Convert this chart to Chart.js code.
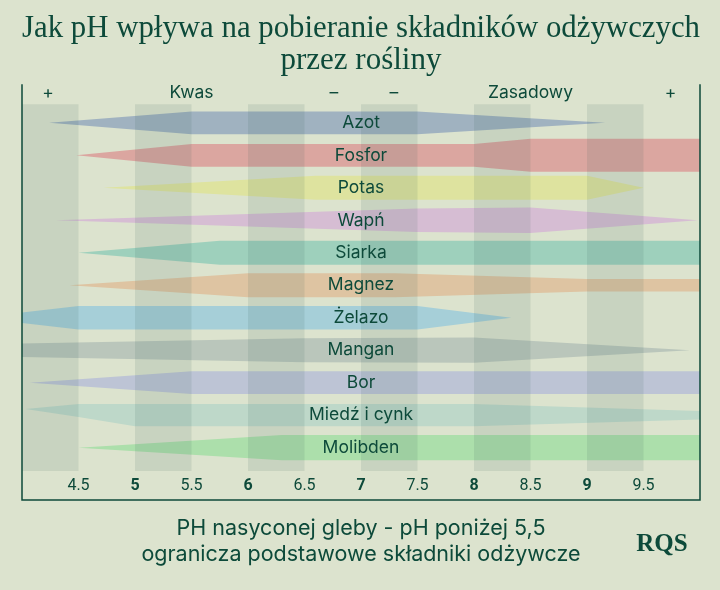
<!DOCTYPE html>
<html lang="pl">
<head>
  <meta charset="UTF-8">
  <title>pH a pobieranie składników</title>
  <style>
    body { margin: 0; background: #dce3ce; }
    #wrap { width: 720px; height: 590px; }
  </style>
  <script src="https://cdn.jsdelivr.net/npm/chart.js@4.4.0/dist/chart.umd.min.js"></script>
</head>
<body>
  <div id="wrap"><canvas id="chart" width="720" height="590"></canvas></div>

  <script>
    // nutrient rows, top to bottom
    const nutrients = ['Azot', 'Fosfor', 'Potas', 'Wapń', 'Siarka', 'Magnez', 'Żelazo', 'Mangan', 'Bor', 'Miedź i cynk', 'Molibden'];

    // shape of each band: [pH, half-width above, half-width below] (in row units)
    const azot = [[4.24, 0, 0], [5.5, .35, .35], [7.5, .35, .35], [9.16, 0, 0]];
    const fosfor = [[4.48, 0, 0], [5.5, .35, .35], [8.0, .35, .35], [8.5, .51, .51], [10, .51, .51]];
    const potas = [[4.72, 0, 0], [6.6, .37, .37], [9.0, .37, .37], [9.5, 0, 0]];
    const wapn = [[4.3, 0, 0], [7.5, .36, .36], [8.5, .39, .39], [9.98, 0, 0]];
    const siarka = [[4.5, 0, 0], [5.75, .37, .37], [10, .37, .37]];
    const magnez = [[4.42, 0, 0], [6.0, .37, .37], [7.3, .37, .37], [9.0, .19, .19], [10, .19, .19]];
    const zelazo = [[4.0, .16, .16], [4.5, .36, .36], [7.5, .36, .36], [8.33, 0, 0]];
    const mangan = [[4.0, .21, .21], [6.5, .37, .37], [8.0, .39, .39], [9.91, 0, 0]];
    const bor = [[4.07, 0, 0], [5.5, .35, .35], [10, .35, .35]];
    const miedz = [[4.03, .19, -.19], [4.5, .34, .06], [5.0, .34, .34], [8.0, .34, .34], [10, .13, .13]];
    const molibden = [[4.5, 0, 0], [6.3, .39, .39], [10, .39, .39]];
    const profiles = [azot, fosfor, potas, wapn, siarka, magnez, zelazo, mangan, bor, miedz, molibden];

    const colors = ['#a0b2c0', '#dba6a0', '#dee39f', '#d6bdd3', '#9ed0bc', '#dec4a2',
                    '#a6cfd8', '#bac6bb', '#bdc4d5', '#bed8c9', '#acdfab'];

    // x axis
    const tickValues = [4.5, 5, 5.5, 6, 6.5, 7, 7.5, 8, 8.5, 9, 9.5];
    const bandStarts = [4, 5, 6, 7, 8, 9];
    const bandWidth = 0.5;

    // labels above the plot
    const headerLabels = ['+', 'Kwas', '–', '–', 'Zasadowy', '+'];
    const headerPositions = [4.23, 5.5, 6.76, 7.29, 8.5, 9.74];

    const labelPH = 7;
    const ink = '#0d4a3a';

    const datasets = [];
    profiles.forEach((prof, i) => {
      datasets.push({
        data: prof.map(p => ({ x: p[0], y: i - p[1] })),
        borderWidth: 0,
        pointRadius: 0,
        fill: false
      });
      datasets.push({
        data: prof.map(p => ({ x: p[0], y: i + p[2] })),
        borderWidth: 0,
        pointRadius: 0,
        fill: '-1',
        backgroundColor: colors[i]
      });
    });

    const decorations = {
      id: 'decorations',
      beforeDraw(chart) {
        const ctx = chart.ctx;
        ctx.save();
        ctx.fillStyle = '#dce3ce';
        ctx.fillRect(0, 0, chart.width, chart.height);
        ctx.restore();
      },
      afterDatasetsDraw(chart) {
        const { ctx, chartArea, scales } = chart;
        const x = scales.x, y = scales.y;
        ctx.save();
        // darker vertical bands
        ctx.fillStyle = 'rgba(60, 100, 90, 0.12)';
        bandStarts.forEach(b => {
          const x0 = x.getPixelForValue(b);
          const x1 = x.getPixelForValue(b + bandWidth);
          ctx.fillRect(x0, chartArea.top, x1 - x0, chartArea.bottom - chartArea.top);
        });
        // nutrient names
        ctx.fillStyle = ink;
        ctx.font = '17.5px Inter';
        ctx.textAlign = 'center';
        ctx.textBaseline = 'middle';
        nutrients.forEach((n, i) => {
          ctx.fillText(n, x.getPixelForValue(labelPH), y.getPixelForValue(i));
        });
        // header
        headerLabels.forEach((t, i) => {
          ctx.fillText(t, x.getPixelForValue(headerPositions[i]), chartArea.top - 12);
        });
        // frame
        ctx.strokeStyle = ink;
        ctx.lineWidth = 1.5;
        const top = chartArea.top - 20, bottom = chartArea.bottom + 29;
        ctx.beginPath();
        ctx.moveTo(chartArea.left, top);
        ctx.lineTo(chartArea.left, bottom);
        ctx.lineTo(chartArea.right, bottom);
        ctx.lineTo(chartArea.right, top);
        ctx.stroke();
        // logo
        ctx.font = 'bold 25px "Liberation Serif"';
        ctx.fillText('RQS', 662, 545);
        ctx.restore();
      }
    };

    new Chart(document.getElementById('chart'), {
      type: 'line',
      data: { datasets: datasets },
      options: {
        responsive: false,
        animation: false,
        layout: { padding: { left: 22, right: 20, top: 0, bottom: 0 } },
        plugins: {
          legend: { display: false },
          tooltip: { enabled: false },
          title: {
            display: true,
            text: ['Jak pH wpływa na pobieranie składników odżywczych', 'przez rośliny'],
            color: ink,
            font: { family: '"Liberation Serif"', size: 31, weight: 'normal', lineHeight: 1.02 },
            padding: { top: 13, bottom: 28 }
          },
          subtitle: {
            display: true,
            position: 'bottom',
            text: ['PH nasyconej gleby - pH poniżej 5,5', 'ogranicza podstawowe składniki odżywcze'],
            color: ink,
            font: { family: 'Inter', size: 21.5, lineHeight: 1.21 },
            padding: { top: 16, bottom: 22 }
          }
        },
        scales: {
          x: {
            type: 'linear',
            min: 4,
            max: 10,
            grid: { display: false, drawTicks: false },
            border: { display: false },
            afterBuildTicks: axis => { axis.ticks = tickValues.map(v => ({ value: v })); },
            afterFit: axis => { axis.height = 29; },
            ticks: {
              color: ink,
              padding: 5,
              maxRotation: 0,
              autoSkip: false,
              font: ctx => ({
                family: 'Roboto',
                size: 16,
                weight: ctx.tick && Number.isInteger(ctx.tick.value) ? 'bold' : 'normal'
              }),
              callback: v => String(v)
            }
          },
          y: {
            type: 'linear',
            reverse: true,
            min: -0.572,
            max: 10.718,
            display: false
          }
        }
      },
      plugins: [decorations]
    });
  </script>
</body>
</html>
